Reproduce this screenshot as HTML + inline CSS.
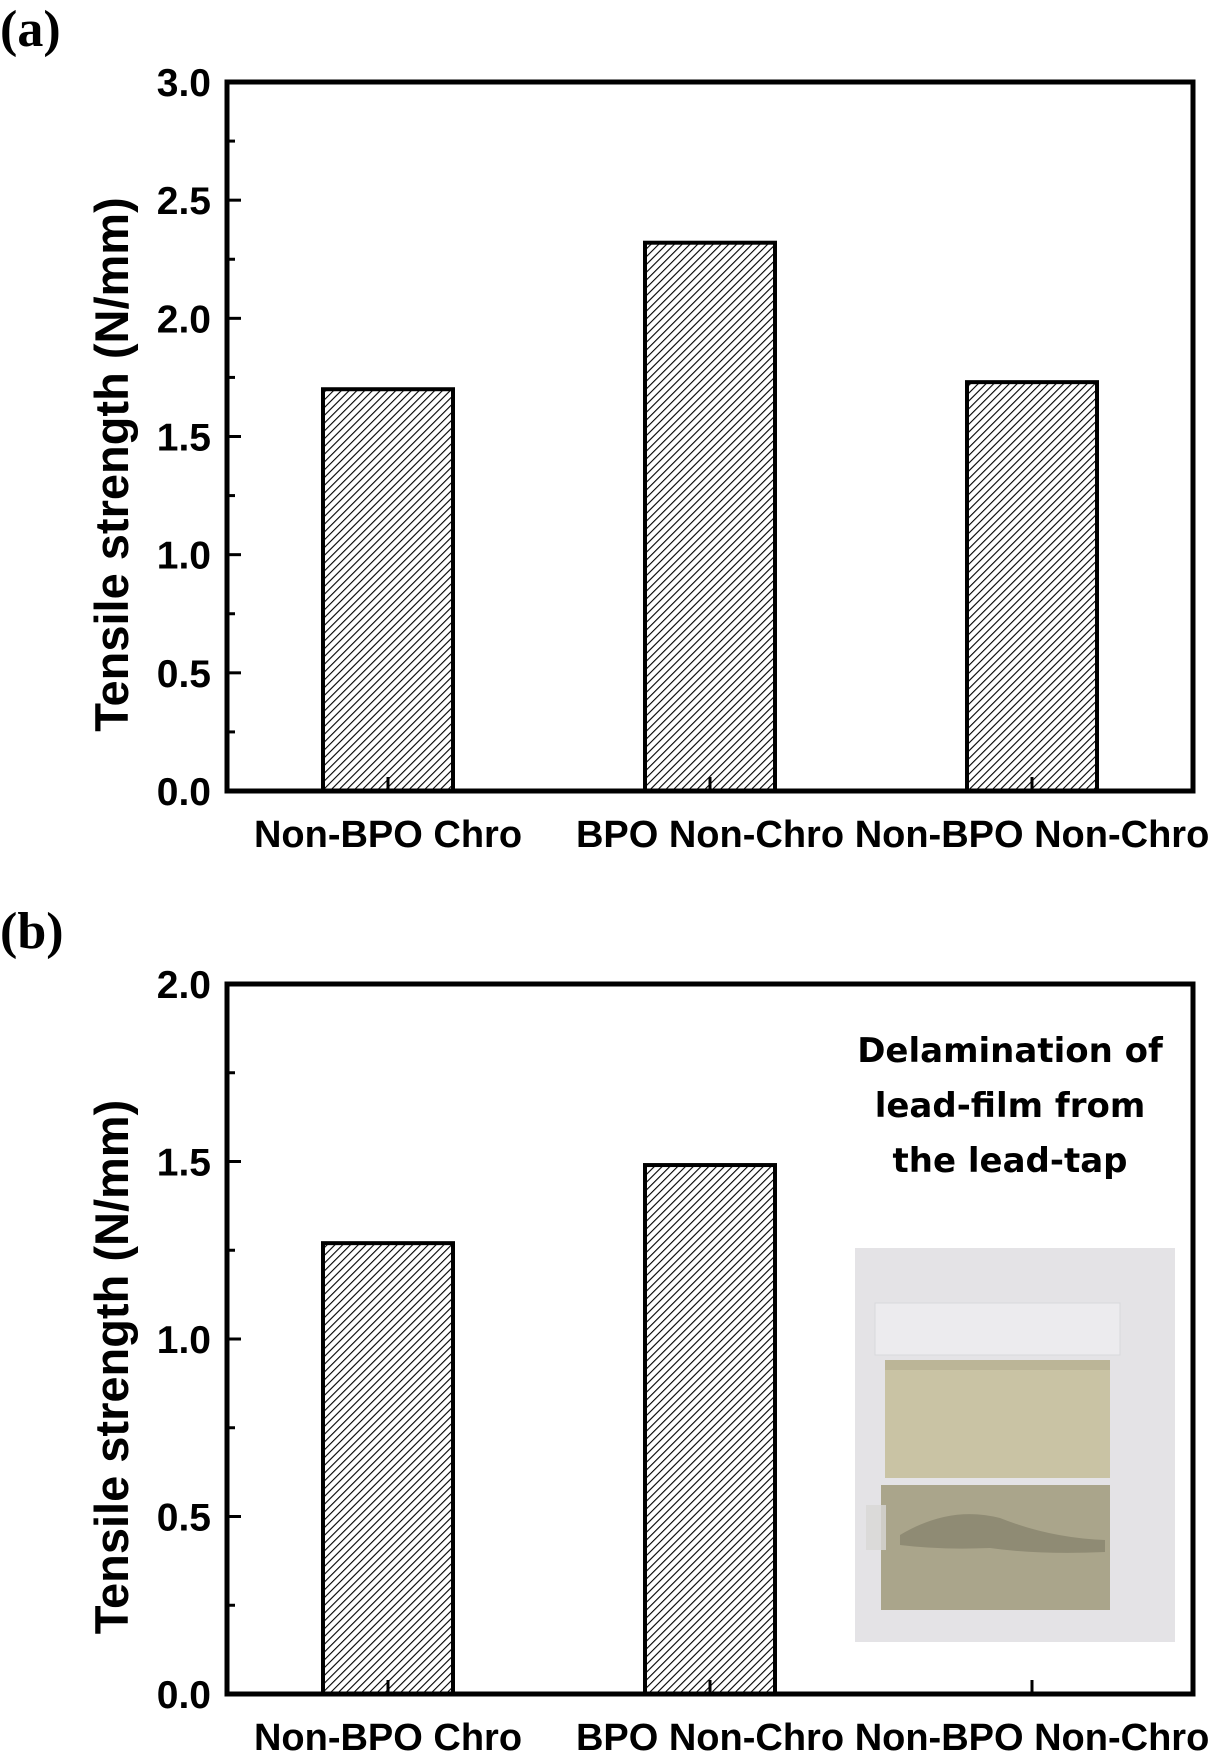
<!DOCTYPE html>
<html><head><meta charset="utf-8"><style>
html,body{margin:0;padding:0;background:#fff;}
svg{display:block;}
text{font-family:"Liberation Sans",Arial,sans-serif;font-weight:bold;fill:#000;}
</style></head><body>
<svg id="fig" width="1213" height="1753" viewBox="0 0 1213 1753" xmlns="http://www.w3.org/2000/svg">
<defs>
<pattern id="hatch" patternUnits="userSpaceOnUse" width="5.5" height="5.5" patternTransform="rotate(45)">
<rect width="5.5" height="5.5" fill="#fff"/>
<line x1="0" y1="0" x2="0" y2="5.5" stroke="#000" stroke-width="2.2"/>
</pattern>
</defs>
<text x="0" y="46" style="font-family:'Liberation Serif',serif;font-size:52px">(a)</text>
<text x="0" y="948" style="font-family:'Liberation Serif',serif;font-size:52px">(b)</text>
<g id="chartA"></g>
<g id="chartB"></g>
<g>
<rect x="855" y="1248" width="320" height="394" fill="#e4e3e6"/>
<rect x="875" y="1303" width="245" height="52" fill="#ecebee" stroke="#d8d8dc"/>
<rect x="885" y="1360" width="225" height="118" fill="#c9c3a4"/>
<rect x="885" y="1360" width="225" height="10" fill="#bbb597"/>
<rect x="881" y="1485" width="229" height="125" fill="#aaa58b"/>
<path d="M900 1535 Q950 1505 1000 1518 Q1050 1538 1105 1540 L1105 1552 Q1040 1555 990 1548 Q940 1550 900 1545Z" fill="#8f8b74"/>
<rect x="866" y="1505" width="20" height="45" fill="#d8d7d6" opacity="0.8"/>
</g>
<g>
<text x="1010" y="1062" text-anchor="middle" style="font-size:34px;font-family:'DejaVu Sans',sans-serif">Delamination of</text>
<text x="1010" y="1117" text-anchor="middle" style="font-size:34px;font-family:'DejaVu Sans',sans-serif">lead-film from</text>
<text x="1010" y="1172" text-anchor="middle" style="font-size:34px;font-family:'DejaVu Sans',sans-serif">the lead-tap</text>
</g>
</svg>
<script>
const categories = ["Non-BPO Chro", "BPO Non-Chro", "Non-BPO Non-Chro"];
const valuesA = [1.70, 2.32, 1.73];
const valuesB = [1.27, 1.49, null];
const ticksA = ["0.0","0.5","1.0","1.5","2.0","2.5","3.0"];
const ticksB = ["0.0","0.5","1.0","1.5","2.0"];
const NS = "http://www.w3.org/2000/svg";
function mk(tag, attrs, parent){const e=document.createElementNS(NS,tag);for(const k in attrs)e.setAttribute(k,attrs[k]);parent.appendChild(e);return e;}
function draw(g, top, bottom, ymax, ticks, values, prefix){
  const L=227, R=1193, W=R-L;
  const y = v => bottom - (v/ymax)*(bottom-top);
  const xc = i => L + W*(i+0.5)/categories.length;
  const bw = 130;
  values.forEach((v,i)=>{
    if(v==null) return;
    const r=mk('rect',{x:xc(i)-bw/2,y:y(v),width:bw,height:bottom-y(v),fill:'url(#hatch)',stroke:'#000','stroke-width':4},g);
    
    
  });
  const step = ymax/(ticks.length-1);
  for(let k=0;k<(ticks.length-1)*2+1;k++){
    const v=k*step/2, major=k%2===0;
    const t=mk('line',{x1:L,x2:L+(major?14:8),y1:y(v),y2:y(v),stroke:'#000','stroke-width':3},g);
    
    
  }
  ticks.forEach(s=>{
    const v=parseFloat(s);
    const t=mk('text',{x:211,y:y(v)+14,'text-anchor':'end','font-size':39},g);
    t.textContent=s;
    
    
  });
  categories.forEach((c,i)=>{
    const t=mk('line',{x1:xc(i),x2:xc(i),y1:bottom,y2:bottom-14,stroke:'#000','stroke-width':3},g);
    
    
    const tx=mk('text',{x:xc(i),y:bottom+56,'text-anchor':'middle','font-size':38},g);
    tx.textContent=c;
    
    
  });
  const f=mk('rect',{x:L,y:top,width:W,height:bottom-top,fill:'none',stroke:'#000','stroke-width':5},g);
  
  
  const cy=(top+bottom)/2+28;
  const tt=mk('text',{x:0,y:0,'text-anchor':'middle','font-size':47,transform:`translate(128,${cy}) rotate(-90)`},g);
  tt.textContent='Tensile strength (N/mm)';
  
  
}
draw(document.getElementById('chartA'),82,791,3.0,ticksA,valuesA,'a');
draw(document.getElementById('chartB'),984,1694,2.0,ticksB,valuesB,'b');
</script>
</body></html>
